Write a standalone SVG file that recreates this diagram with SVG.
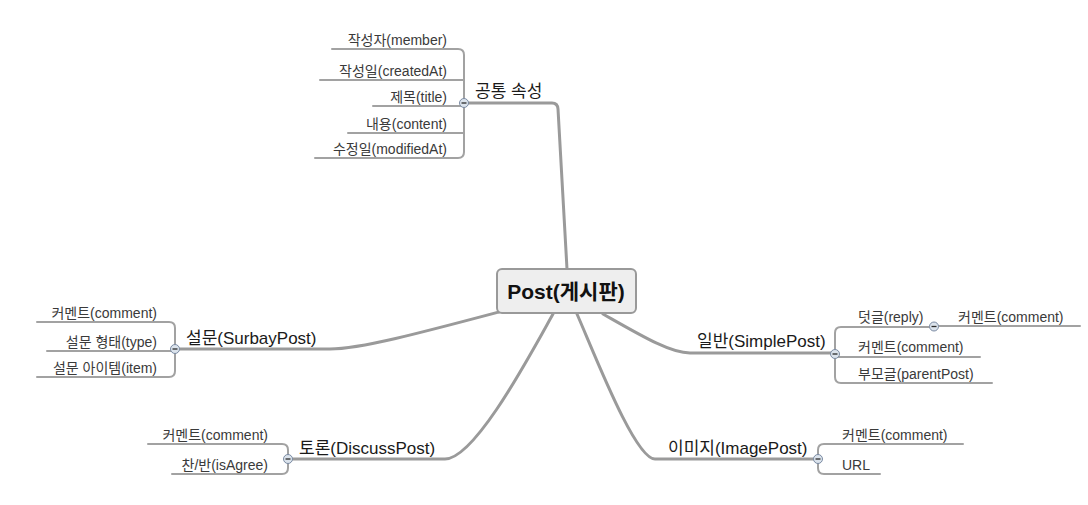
<svg xmlns="http://www.w3.org/2000/svg" width="1088" height="505" viewBox="0 0 1088 505">
<style>
text{font-family:"Liberation Sans","Noto Sans CJK KR",sans-serif;}
.root{font-size:21px;font-weight:bold;fill:#111;text-anchor:middle;}
.br{font-size:17px;fill:#1a1a1a;}
.ch{font-size:14px;fill:#3a3a3a;}
.end{text-anchor:end;}
.main{fill:none;stroke:#9a9a9a;stroke-width:3;stroke-linecap:round;}
.sub{fill:none;stroke:#a2a2a2;stroke-width:2;stroke-linecap:round;}
.tog circle{fill:#dbe3ec;stroke:#7b8ba3;stroke-width:1;}
.tog line{stroke:#2a2a2a;stroke-width:1.3;}
</style>
<rect width="1088" height="505" fill="#ffffff"/>
<g id="connectors">
<path class="main" d="M567,269 L558,109 Q557.6,103 552,103 L464,103"/>
<path class="main" d="M499,312 C420,333 360,349 330,349 L175,349"/>
<path class="main" d="M603,314 C640,335 670,353 690,353 L835,353"/>
<path class="main" d="M553,314 C530,355 475,459 445,459 L288,459"/>
<path class="main" d="M577,314 C595,355 635,459 655,459 L818,459"/>
<path class="sub" d="M332,49 L458,49 Q464,49 464,55 L464,152 Q464,158 458,158 L315,158"/>
<path class="sub" d="M320,80 L464,80 M373,106 L464,106 M348,133 L464,133"/>
<path class="sub" d="M37,322 L169,322 Q175,322 175,328 L175,371 Q175,377 169,377 L37,377 M47,351 L175,351"/>
<path class="sub" d="M934,327 L841,327 Q835,327 835,333 L835,377 Q835,383 841,383 L992,383 M835,357 L980,357 M934,326 L1080,326"/>
<path class="sub" d="M148,444 L282,444 Q288,444 288,450 L288,468 Q288,474 282,474 L172,474"/>
<path class="sub" d="M963,444 L824,444 Q818,444 818,450 L818,468 Q818,474 824,474 L880,474"/>
</g>
<g id="root">
<rect x="497" y="269" width="139" height="44" rx="5" fill="#eeeeee" stroke="#999999" stroke-width="2"/>
<text class="root" x="566" y="299">Post(게시판)</text>
</g>
<g id="common">
<text class="br" x="475" y="97">공통 속성</text>
<g class="tog"><circle cx="464" cy="103" r="4.5"/><line x1="461.5" y1="103" x2="466.5" y2="103"/></g>
</g>
<g id="c-member"><text class="ch end" x="447" y="45">작성자(member)</text></g>
<g id="c-created"><text class="ch end" x="447" y="76">작성일(createdAt)</text></g>
<g id="c-title"><text class="ch end" x="447" y="102">제목(title)</text></g>
<g id="c-content"><text class="ch end" x="447" y="129">내용(content)</text></g>
<g id="c-modified"><text class="ch end" x="447" y="154">수정일(modifiedAt)</text></g>
<g id="survey">
<text class="br" x="186" y="344">설문(SurbayPost)</text>
<g class="tog"><circle cx="175" cy="349" r="4.5"/><line x1="172.5" y1="349" x2="177.5" y2="349"/></g>
</g>
<g id="s-comment"><text class="ch end" x="157" y="318">커멘트(comment)</text></g>
<g id="s-type"><text class="ch end" x="157" y="347">설문 형태(type)</text></g>
<g id="s-item"><text class="ch end" x="157" y="373">설문 아이템(item)</text></g>
<g id="simple">
<text class="br" x="697" y="347">일반(SimplePost)</text>
<g class="tog"><circle cx="835" cy="354" r="4.5"/><line x1="832.5" y1="354" x2="837.5" y2="354"/></g>
</g>
<g id="p-reply">
<text class="ch" x="858" y="322">덧글(reply)</text>
<g class="tog"><circle cx="934" cy="326.5" r="4.5"/><line x1="931.5" y1="326.5" x2="936.5" y2="326.5"/></g>
</g>
<g id="p-reply-comment"><text class="ch" x="958" y="322">커멘트(comment)</text></g>
<g id="p-comment"><text class="ch" x="858" y="352">커멘트(comment)</text></g>
<g id="p-parent"><text class="ch" x="858" y="379">부모글(parentPost)</text></g>
<g id="discuss">
<text class="br" x="299" y="454">토론(DiscussPost)</text>
<g class="tog"><circle cx="288" cy="459" r="4.5"/><line x1="285.5" y1="459" x2="290.5" y2="459"/></g>
</g>
<g id="d-comment"><text class="ch end" x="268" y="440">커멘트(comment)</text></g>
<g id="d-agree"><text class="ch end" x="268" y="470">찬/반(isAgree)</text></g>
<g id="image">
<text class="br" x="668" y="454">이미지(ImagePost)</text>
<g class="tog"><circle cx="818" cy="459" r="4.5"/><line x1="815.5" y1="459" x2="820.5" y2="459"/></g>
</g>
<g id="i-comment"><text class="ch" x="842" y="440">커멘트(comment)</text></g>
<g id="i-url"><text class="ch" x="842" y="470">URL</text></g>
</svg>
